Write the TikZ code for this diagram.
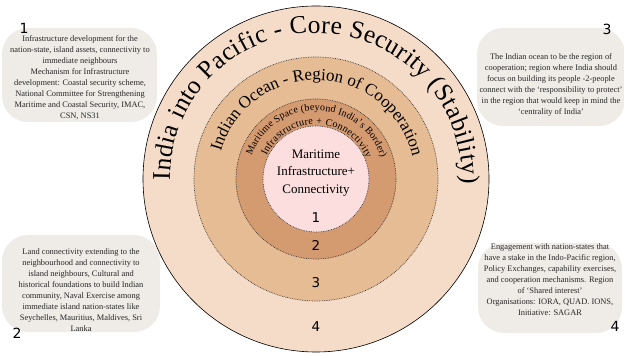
\documentclass[tikz,border=0pt]{standalone}
\usepackage{fontspec}
\setmainfont{Liberation Serif}
\newfontfamily\numfont{DejaVu Sans}
\usetikzlibrary{decorations.text}
\definecolor{bandfour}{HTML}{F5DCC8}
\definecolor{bandthree}{HTML}{E6BC94}
\definecolor{bandtwo}{HTML}{D49A70}
\definecolor{bandone}{HTML}{FCDEDE}
\definecolor{boxgray}{HTML}{EFECE7}
\begin{document}
\begin{tikzpicture}[x=1pt,y=1pt,
  ringline/.style={draw=black!80, densely dotted, line width=0.7pt},
  infobox/.style={fill=boxgray, draw=none, rounded corners=26pt},
  infotext/.style={align=center, inner sep=0pt, text=black!85,
    font=\fontsize{8.4}{11}\selectfont},
  numlabel/.style={inner sep=0pt, font=\numfont\fontsize{13.5}{14}\selectfont},
  boxlabel/.style={inner sep=0pt, font=\numfont\fontsize{14}{14}\selectfont},
  arctitle/.style={decorate, decoration={text along path,
    text align=fit to path, text={#1}}},
]
\useasboundingbox (0,0) rectangle (624,356);
\coordinate (c) at (316,177);

% concentric bands
\fill[bandfour] (c) circle[radius=173];
\draw[black, line width=0.6pt] (c) circle[radius=173];
\fill[bandthree] (c) circle[radius=122];
\draw[ringline] (c) circle[radius=122];
\fill[bandtwo] (c) circle[radius=80];
\draw[ringline] (c) circle[radius=80];
\fill[bandone] (c) circle[radius=53];
\draw[ringline] (c) circle[radius=53];

% start points of the curved titles
\path (c) ++(180.5:146) coordinate (s4);
\path (c) ++(164:99) coordinate (s3);
\path (c) ++(160:68.5) coordinate (s2);
\path (c) ++(155:54.5) coordinate (s1);

\path[arctitle={|\fontsize{25.5}{25.5}\selectfont|India into Pacific - Core Security (Stability)}]
  (s4) arc[start angle=180.5, end angle=-2, radius=146];
\path[arctitle={|\fontsize{17}{17}\selectfont|Indian Ocean - Region of Cooperation}]
  (s3) arc[start angle=164, end angle=14, radius=99];
\path[arctitle={|\fontsize{10}{10}\selectfont|Maritime Space (beyond India’s Border)}]
  (s2) arc[start angle=160, end angle=18, radius=68.5];
\path[arctitle={|\fontsize{10.2}{10.2}\selectfont|Infrastructure + Connectivity}]
  (s1) arc[start angle=155, end angle=22, radius=54.5];

% core text and band numbers
\node[align=center, inner sep=0pt, font=\fontsize{13}{17.5}\selectfont] (core)
  at (316,183) {Maritime\\Infrastructure+\\Connectivity};
\node[numlabel] (n1) at (316,138) {1};
\node[numlabel] (n2) at (316,111) {2};
\node[numlabel] (n3) at (316,73) {3};
\node[numlabel] (n4) at (316,29) {4};

% explanatory boxes
\node[infobox, minimum width=155pt, minimum height=94pt] (b1) at (79.5,281) {};
\node[infotext] (t1) at (80,278.5) {Infrastructure development for the\\
nation-state, island assets, connectivity to\\immediate neighbours\\
Mechanism for Infrastructure\\development: Coastal security scheme,\\
National Committee for Strengthening\\Maritime and Coastal Security, IMAC,\\CSN, NS31};
\node[boxlabel] (l1) at (24,328) {1};

\node[infobox, minimum width=148pt, minimum height=98pt] (b3) at (551,279) {};
\node[infotext] (t3) at (551,271.5) {The Indian ocean to be the region of\\
cooperation; region where India should\\focus on building its people -2-people\\
connect with the ‘responsibility to protect’\\in the region that would keep in mind the\\
‘centrality of India’};
\node[boxlabel] (l3) at (607,327) {3};

\node[infobox, minimum width=158pt, minimum height=97pt] (b2) at (81,72.5) {};
\node[infotext] (t2) at (81,65.5) {Land connectivity extending to the\\
neighbourhood and connectivity to\\island neighbours, Cultural and\\
historical foundations to build Indian\\community, Naval Exercise among\\
immediate island nation-states like\\Seychelles, Mauritius, Maldives, Sri\\Lanka};
\node[boxlabel] (l2) at (17,23) {2};

\node[infobox, minimum width=144pt, minimum height=90pt] (b4) at (550,68) {};
\node[infotext] (t4) at (550,76) {Engagement with nation-states that\\
have a stake in the Indo-Pacific region,\\Policy Exchanges, capability exercises,\\
and cooperation mechanisms. Region\\of ‘Shared interest’\\
Organisations: IORA, QUAD. IONS,\\Initiative: SAGAR};
\node[boxlabel] (l4) at (615,30) {4};
\end{tikzpicture}
\end{document}
